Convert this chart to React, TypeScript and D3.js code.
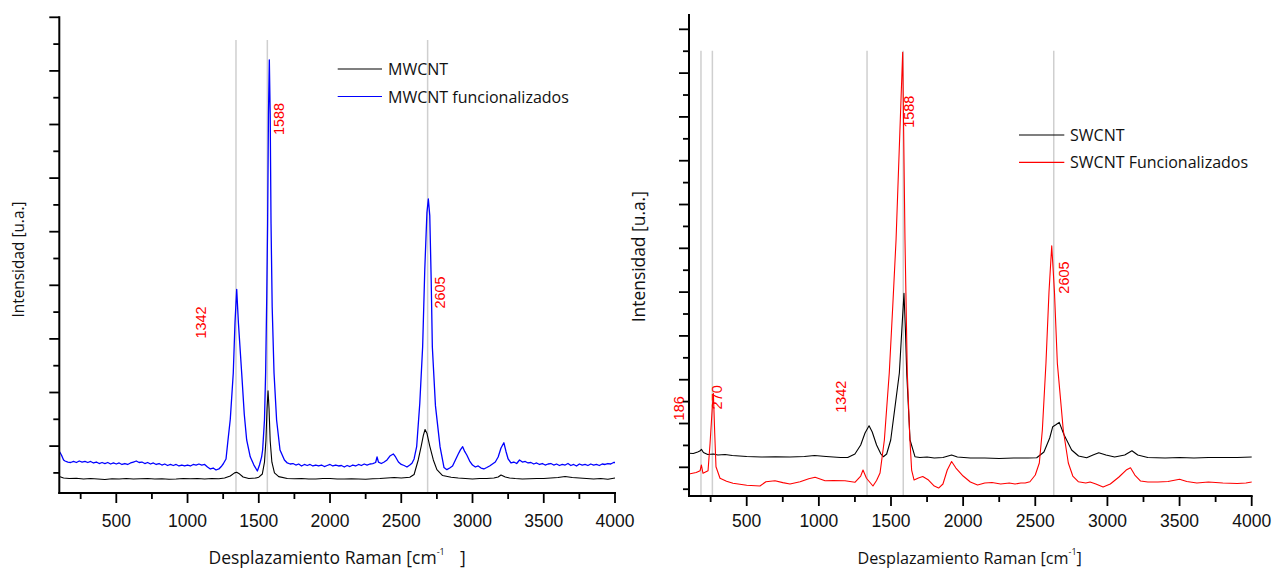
import React from "react";
import * as d3 from "d3";

type Pt = [number, number];

// Raman shift [cm-1], intensity [counts]
const mwcnt: Pt[] = [
  [100, 433], [130, 405], [170, 395], [220, 400], [270, 386], [320, 395], [370, 386], [420, 377],
  [470, 390], [520, 386], [570, 395], [620, 386], [670, 390], [720, 395], [770, 386], [820, 390],
  [870, 381], [920, 386], [970, 395], [1020, 390], [1070, 395], [1120, 386], [1170, 395], [1220, 390],
  [1260, 405], [1300, 442], [1330, 500], [1345, 512], [1360, 490], [1390, 423], [1430, 395], [1480, 405],
  [1500, 420], [1525, 480], [1540, 700], [1550, 1100], [1558, 1700], [1565, 2034], [1572, 1700],
  [1580, 1100], [1592, 700], [1610, 500], [1640, 430], [1700, 395], [1750, 390], [1800, 395],
  [1850, 386], [1900, 386], [1950, 395], [2000, 395], [2050, 386], [2100, 386], [2150, 390],
  [2200, 386], [2250, 381], [2300, 390], [2350, 395], [2400, 405], [2450, 414], [2500, 405],
  [2560, 420], [2590, 470], [2619, 741], [2640, 1000], [2655, 1200], [2667, 1310], [2680, 1240],
  [2700, 1000], [2725, 741], [2750, 560], [2790, 450], [2850, 420], [2900, 405], [2950, 395],
  [3000, 386], [3050, 395], [3100, 395], [3150, 405], [3180, 423], [3200, 461], [3230, 423],
  [3260, 405], [3300, 395], [3350, 386], [3400, 390], [3450, 395], [3500, 395], [3550, 405],
  [3600, 414], [3650, 433], [3700, 414], [3750, 405], [3800, 395], [3850, 386], [3900, 395],
  [3950, 381], [4000, 405],
];

const mwcntFunc: Pt[] = [
  [100, 896], [105, 880], [115, 834], [130, 741], [140, 722], [160, 703], [180, 694], [200, 713],
  [220, 694], [240, 722], [260, 703], [280, 713], [300, 694], [320, 713], [340, 685], [360, 703],
  [380, 675], [400, 694], [420, 675], [440, 694], [460, 666], [480, 685], [500, 666], [520, 685],
  [540, 657], [560, 675], [580, 657], [600, 685], [620, 703], [640, 722], [660, 694], [680, 703],
  [700, 675], [720, 694], [740, 666], [760, 685], [780, 657], [800, 675], [820, 647], [840, 666],
  [860, 638], [880, 657], [900, 638], [920, 657], [940, 629], [960, 647], [980, 629], [1000, 647],
  [1020, 629], [1040, 657], [1060, 647], [1080, 666], [1100, 647], [1120, 657], [1140, 610],
  [1160, 573], [1180, 591], [1200, 554], [1220, 573], [1240, 629], [1250, 666], [1270, 760],
  [1284, 1114], [1300, 1500], [1321, 2364], [1333, 3300], [1345, 3925], [1357, 3300], [1380, 2364],
  [1398, 1600], [1415, 1114], [1440, 800], [1465, 650], [1490, 535], [1505, 647], [1520, 800],
  [1527, 927], [1540, 1490], [1548, 2364], [1556, 3800], [1562, 5150], [1568, 7200], [1574, 8207],
  [1580, 7200], [1586, 5150], [1594, 3600], [1607, 2364], [1625, 1487], [1649, 927], [1680, 741],
  [1700, 685], [1720, 666], [1740, 675], [1760, 647], [1780, 666], [1800, 629], [1820, 657],
  [1840, 638], [1860, 657], [1880, 629], [1900, 647], [1920, 629], [1940, 647], [1960, 619],
  [1980, 638], [2000, 657], [2020, 629], [2040, 647], [2060, 629], [2080, 638], [2100, 610],
  [2120, 638], [2140, 619], [2160, 647], [2180, 629], [2200, 657], [2220, 638], [2240, 666],
  [2260, 647], [2280, 666], [2300, 675], [2320, 694], [2330, 797], [2340, 700], [2360, 675],
  [2380, 703], [2400, 741], [2420, 815], [2444, 853], [2460, 797], [2480, 703], [2500, 657],
  [2520, 638], [2540, 610], [2560, 647], [2575, 680], [2590, 760], [2608, 989], [2630, 1800],
  [2650, 2855], [2665, 4300], [2680, 5350], [2690, 5610], [2700, 5300], [2710, 4100], [2718, 2855],
  [2740, 1750], [2772, 989], [2800, 600], [2820, 560], [2840, 591], [2860, 629], [2880, 741],
  [2900, 853], [2915, 930], [2931, 989], [2945, 900], [2960, 834], [2980, 722], [3000, 647],
  [3020, 610], [3040, 629], [3060, 591], [3080, 573], [3100, 600], [3120, 629], [3140, 666],
  [3160, 703], [3180, 797], [3200, 965], [3220, 1063], [3235, 900], [3250, 760], [3270, 685],
  [3290, 703], [3310, 675], [3330, 741], [3350, 703], [3370, 713], [3390, 685], [3410, 694],
  [3430, 666], [3450, 685], [3470, 657], [3490, 675], [3510, 647], [3530, 666], [3550, 675],
  [3570, 647], [3590, 666], [3610, 638], [3630, 657], [3650, 647], [3670, 675], [3690, 638],
  [3710, 657], [3730, 629], [3750, 666], [3770, 647], [3790, 657], [3810, 638], [3830, 666],
  [3850, 647], [3870, 657], [3890, 638], [3910, 666], [3930, 657], [3950, 675], [3970, 666],
  [3990, 694], [4000, 694],
];

const swcnt: Pt[] = [
  [100, 1320], [130, 1315], [160, 1350], [175, 1370], [186, 1411], [200, 1338], [230, 1292],
  [270, 1304], [300, 1281], [350, 1292], [400, 1270], [450, 1258], [500, 1247], [600, 1235],
  [700, 1240], [800, 1235], [900, 1247], [970, 1270], [1050, 1247], [1150, 1224], [1200, 1224],
  [1250, 1304], [1290, 1509], [1320, 1783], [1348, 1950], [1370, 1806], [1400, 1509], [1430, 1304],
  [1447, 1242], [1470, 1304], [1498, 1623], [1528, 2384], [1558, 3153], [1575, 4135], [1590, 4973],
  [1600, 4135], [1609, 3153], [1632, 1623], [1666, 1242], [1700, 1224], [1750, 1235], [1800, 1212],
  [1860, 1224], [1920, 1281], [1960, 1235], [2050, 1212], [2150, 1212], [2250, 1201], [2350, 1212],
  [2450, 1212], [2510, 1219], [2560, 1350], [2600, 1669], [2621, 1927], [2645, 1977], [2666, 2027],
  [2700, 1737], [2752, 1395], [2800, 1258], [2856, 1219], [2900, 1281], [2940, 1333], [2990, 1281],
  [3050, 1235], [3120, 1281], [3170, 1379], [3210, 1281], [3280, 1224], [3400, 1212], [3500, 1224],
  [3600, 1212], [3700, 1224], [3800, 1224], [3900, 1224], [4000, 1235],
];

const swcntFunc: Pt[] = [
  [100, 847], [150, 880], [177, 922], [186, 1053], [197, 863], [232, 922], [246, 1548], [262, 2400],
  [269, 2690], [278, 1800], [287, 1014], [315, 749], [360, 680], [405, 635], [500, 590], [592, 573],
  [633, 671], [696, 694], [750, 650], [800, 619], [870, 671], [930, 740], [974, 772], [1043, 694],
  [1100, 700], [1181, 694], [1250, 658], [1290, 800], [1306, 938], [1330, 750], [1375, 573],
  [1400, 700], [1424, 870], [1454, 1623], [1488, 3153], [1512, 4667], [1535, 6190], [1581, 10475],
  [1597, 6190], [1613, 3153], [1630, 1700], [1643, 938], [1660, 710], [1690, 756], [1720, 790],
  [1760, 710], [1800, 573], [1830, 527], [1860, 619], [1890, 938], [1920, 1132], [1950, 984],
  [2000, 801], [2050, 664], [2100, 596], [2150, 642], [2200, 653], [2260, 619], [2320, 642],
  [2360, 619], [2400, 642], [2430, 642], [2463, 671], [2500, 824], [2528, 1098], [2549, 1852],
  [2574, 3374], [2595, 5000], [2614, 6059], [2633, 5000], [2653, 3374], [2694, 1852], [2729, 1098],
  [2760, 801], [2798, 671], [2850, 642], [2880, 664], [2920, 619], [2970, 550], [3020, 619],
  [3080, 779], [3130, 938], [3160, 991], [3190, 824], [3230, 687], [3280, 664], [3350, 664],
  [3420, 676], [3500, 726], [3550, 676], [3620, 642], [3700, 664], [3800, 642], [3900, 630],
  [3960, 642], [4000, 664],
];

// axis ticks
const xMajor = [500, 1000, 1500, 2000, 2500, 3000, 3500, 4000];
const xMinor = [250, 750, 1250, 1750, 2250, 2750, 3250, 3750];
const leftYMajor = [1000, 2000, 3000, 4000, 5000, 6000, 7000, 8000, 9000];
const leftYMinor = [500, 1500, 2500, 3500, 4500, 5500, 6500, 7500, 8500];
const rightYMajor = [1000, 2000, 3000, 4000, 5000, 6000, 7000, 8000, 9000, 10000, 11000];
const rightYMinor = [500, 1500, 2500, 3500, 4500, 5500, 6500, 7500, 8500, 9500, 10500];

// reference lines (peak positions) and their red labels
const leftMarks = [1340, 1560, 2685];
const rightMarks = [183, 262, 1334, 1585, 2628];
const leftMarkLabels: [string, number, number][] = [
  ["1342", 1094, 3306],
  ["1588", 1644, 7103],
  ["2605", 2772, 3866],
];
const rightMarkLabels: [string, number, number][] = [
  ["186", 33, 2347],
  ["270", 296, 2598],
  ["1342", 1151, 2612],
  ["1588", 1627, 9119],
  ["2605", 2697, 5333],
];

const CALIBRI = "'Open Sans', 'Noto Sans', sans-serif";
const ARIAL = "'Liberation Sans', Arial, sans-serif";

function Panel(props: any) {
  const { xRange, yRange, yDomain, yMajor, yMinor, series, marks, markTop, labels, legendPos,
    xTitleX, xTitleSize, bracketX, yTitleX, yTitleY, yTitleSize } = props;

  const x = d3.scaleLinear().domain([100, 4000]).range(xRange);
  const y = d3.scaleLinear().domain(yDomain).range(yRange);
  const line = d3.line<Pt>().x(d => x(d[0])).y(d => y(d[1]));

  const x0 = xRange[0];
  const yb = yRange[0];

  return (
    <g>
      {/* gray peak markers */}
      {marks.map((m: number, i: number) => (
        <line key={"m" + i} x1={x(m)} x2={x(m)} y1={y(markTop)} y2={yb} stroke="#cfcfcf" strokeWidth={1.5} />
      ))}

      {series.map((s: any, i: number) => (
        <path key={"s" + i} d={line(s.data) || ""} fill="none" stroke={s.color} strokeWidth={s.width}
          strokeLinejoin="round" />
      ))}

      {labels.map((l: [string, number, number], i: number) => (
        <text key={"l" + i} transform={`translate(${x(l[1])},${y(l[2])}) rotate(-90)`} textAnchor="middle"
          dominantBaseline="central" fill="#ff0000" fontFamily={ARIAL} fontSize={14.5}>{l[0]}</text>
      ))}

      {/* axes */}
      <line x1={x0} x2={x0} y1={yb} y2={yRange[1]} stroke="#000" strokeWidth={2} strokeLinecap="square" />
      <line x1={x0} x2={xRange[1]} y1={yb} y2={yb} stroke="#000" strokeWidth={2} strokeLinecap="square" />
      {yMajor.map((t: number) => (
        <line key={"ym" + t} x1={x0 - 10} x2={x0} y1={y(t)} y2={y(t)} stroke="#000" strokeWidth={1.8} />
      ))}
      {yMinor.map((t: number) => (
        <line key={"yn" + t} x1={x0 - 6} x2={x0} y1={y(t)} y2={y(t)} stroke="#000" strokeWidth={1.8} />
      ))}
      {xMajor.map(t => (
        <g key={"xm" + t}>
          <line x1={x(t)} x2={x(t)} y1={yb} y2={yb + 10} stroke="#000" strokeWidth={1.8} />
          <text x={x(t)} y={527} textAnchor="middle" fontFamily={ARIAL} fontSize={17.5} fill="#111">{t}</text>
        </g>
      ))}
      {xMinor.map(t => (
        <line key={"xn" + t} x1={x(t)} x2={x(t)} y1={yb} y2={yb + 6} stroke="#000" strokeWidth={1.8} />
      ))}

      {/* titles */}
      <text x={xTitleX} y={564} fontFamily={CALIBRI} fontSize={xTitleSize} fill="#111">
        Desplazamiento Raman [cm<tspan dy={-9} fontSize={9}>-1</tspan>
        <tspan dy={9} x={bracketX}>]</tspan>
      </text>
      <text transform={`translate(${yTitleX},${yTitleY}) rotate(-90)`} textAnchor="middle" fontFamily={CALIBRI}
        fontSize={yTitleSize} fill="#111">Intensidad [u.a.]</text>

      {/* legend */}
      {series.map((s: any, i: number) => (
        <g key={"lg" + i}>
          <line x1={legendPos.x1} x2={legendPos.x2} y1={legendPos.ys[i]} y2={legendPos.ys[i]} stroke={s.color}
            strokeWidth={1.2} />
          <text x={legendPos.tx} y={legendPos.ys[i] + 6} fontFamily={CALIBRI} fontSize={16} fill="#111">{s.name}</text>
        </g>
      ))}
    </g>
  );
}

export default function App() {
  return (
    <svg width={1275} height={572} style={{ position: "absolute", left: 0, top: 0, background: "#fff" }}>
      <rect width={1275} height={572} fill="#fff" />
      <Panel
        xRange={[59.3, 615]} yRange={[493, 17.3]} yDomain={[125, 9000]}
        yMajor={leftYMajor} yMinor={leftYMinor}
        series={[
          { name: "MWCNT", color: "#000000", data: mwcnt, width: 1.1 },
          { name: "MWCNT funcionalizados", color: "#0000ff", data: mwcntFunc, width: 1.3 },
        ]}
        marks={leftMarks} markTop={8577} labels={leftMarkLabels}
        legendPos={{ x1: 337.7, x2: 382, tx: 388, ys: [69, 96.5] }}
        xTitleX={208.5} xTitleSize={17.5} bracketX={460}
        yTitleX={23.5} yTitleY={259.5} yTitleSize={15.4}
      />
      <Panel
        xRange={[689, 1251.7]} yRange={[496, 15]} yDomain={[345, 11327]}
        yMajor={rightYMajor} yMinor={rightYMinor}
        series={[
          { name: "SWCNT", color: "#000000", data: swcnt, width: 1.1 },
          { name: "SWCNT Funcionalizados", color: "#ff0000", data: swcntFunc, width: 1.1 },
        ]}
        marks={rightMarks} markTop={10511} labels={rightMarkLabels}
        legendPos={{ x1: 1019, x2: 1064.3, tx: 1070, ys: [135, 162.3] }}
        xTitleX={857.5} xTitleSize={16.2} bracketX={undefined}
        yTitleX={644.5} yTitleY={256.7} yTitleSize={17.4}
      />
    </svg>
  );
}
